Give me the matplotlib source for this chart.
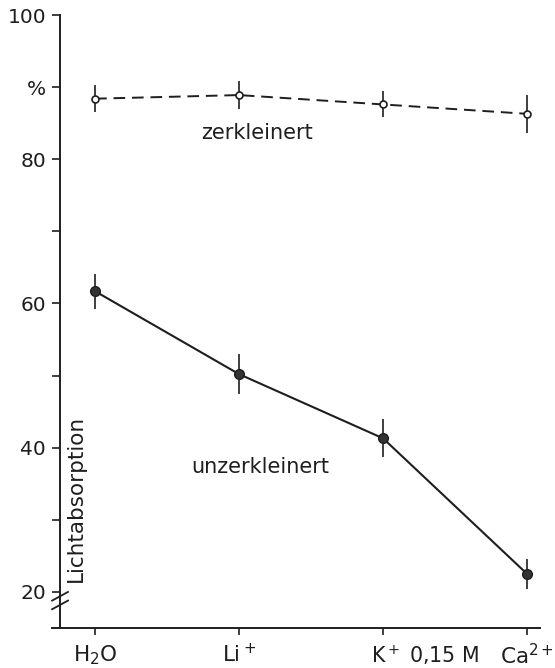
import matplotlib.pyplot as plt
from matplotlib.transforms import ScaledTranslation

# categories and values
labels = ["H$_2$O", "Li$^+$", "K$^+$ 0,15 M", "Ca$^{2+}$"]
zerkleinert = [88.4, 88.9, 87.6, 86.3]
zerkleinert_err = [1.9, 2.0, 1.8, 2.6]
unzerkleinert = [61.7, 50.2, 41.3, 22.5]
unzerkleinert_err = [2.45, 2.8, 2.65, 2.1]
yticks = [20, 40, 60, 80, 90, 100]
yticklabels = ["20", "40", "60", "80", "%", "100"]
yminor = [30, 50, 70]

plt.rcParams['font.family'] = ['DejaVu Sans']
ink = "#1e1e1e"

fig = plt.figure(figsize=(5.55, 6.68), dpi=100)
ax = fig.add_axes([0.0937, 0.0599, 0.8793, 0.9176])

x = list(range(len(labels)))

# dashed series with open circles
ax.errorbar(x, zerkleinert, yerr=zerkleinert_err, color=ink, lw=1.4,
            ls=(0, (6, 3.5)), marker="o", ms=5, mfc="white", mec=ink, mew=1.2,
            elinewidth=1.2, capsize=0)
# solid series with filled circles
ax.errorbar(x, unzerkleinert, yerr=unzerkleinert_err, color=ink, lw=1.5,
            marker="o", ms=7, mfc="#333333", mec=ink,
            elinewidth=1.2, capsize=0)

ax.text(1.125, 83.7, "zerkleinert", fontsize=15, ha="center", va="center", color=ink)
ax.text(1.146, 37.3, "unzerkleinert", fontsize=15, ha="center", va="center", color=ink)
ax.text(-0.13, 33.0, "Lichtabsorption", fontsize=15.5, rotation=90,
        ha="center", va="center", color=ink)

ax.set_xlim(-0.299, 3.09)
ax.set_ylim(15.0, 100)

ax.spines["top"].set_visible(False)
ax.spines["right"].set_visible(False)
ax.spines["left"].set_position(("data", -0.243))
for s in ("left", "bottom"):
    ax.spines[s].set_linewidth(1.4)
    ax.spines[s].set_color(ink)

ax.set_yticks(yticks)
ax.set_yticklabels(yticklabels)
ax.set_yticks(yminor, minor=True)
ax.tick_params(axis="y", which="major", direction="out", length=6, width=1.2,
               labelsize=14.5, pad=4, colors=ink)
ax.tick_params(axis="y", which="minor", direction="out", length=6, width=1.2, colors=ink)

ax.set_xticks(x)
ax.set_xticklabels(labels)
ax.tick_params(axis="x", direction="out", length=5, width=1.2,
               labelsize=15.5, pad=6, colors=ink)
lab = ax.get_xticklabels()[2]
lab.set_fontsize(14.8)
lab.set_horizontalalignment("left")
lab.set_transform(lab.get_transform() + ScaledTranslation(-0.12, 0, fig.dpi_scale_trans))

# axis break marks on the y axis
xs = -0.243
for yb in (19.4, 18.2):
    ax.plot([xs - 0.055, xs + 0.055], [yb - 0.6, yb + 0.6], color=ink, lw=1.3,
            clip_on=False)

fig.savefig("out.png", dpi=100)
